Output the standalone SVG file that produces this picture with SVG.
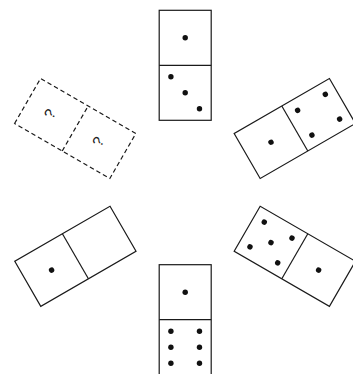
<svg xmlns="http://www.w3.org/2000/svg" width="353" height="374" viewBox="0 0 353 374">
<style>
.tile{fill:#fff;stroke:#1a1a1a;stroke-width:1.2}
.div{stroke:#1a1a1a;stroke-width:1.2}
.dash{stroke-dasharray:4.5 3}
.pip{fill:#111}
.q{font-family:"Liberation Sans",Arial,sans-serif;font-size:15px;fill:#222;text-anchor:middle}
</style>
<defs>
<g id="tile"><rect class="tile" x="-26" y="-55" width="52" height="110"/><line class="div" x1="-26" y1="0" x2="26" y2="0"/></g>
</defs>
<g id="connectors"/>
<g id="domino-top" transform="translate(185.2,65.3)">
<use href="#tile"/>
<circle class="pip" cx="0" cy="-27.5" r="2.7"/>
<circle class="pip" cx="-14.3" cy="11.5" r="2.7"/>
<circle class="pip" cx="0" cy="27.5" r="2.7"/>
<circle class="pip" cx="14.3" cy="43.5" r="2.7"/>
</g>
<g id="domino-upper-right" transform="translate(294.8,128.5) rotate(60)">
<use href="#tile"/>
<circle class="pip" cx="0" cy="27.5" r="2.7"/>
<circle class="pip" cx="-14.3" cy="-11.5" r="2.7"/>
<circle class="pip" cx="14.3" cy="-11.5" r="2.7"/>
<circle class="pip" cx="-14.3" cy="-43.5" r="2.7"/>
<circle class="pip" cx="14.3" cy="-43.5" r="2.7"/>
</g>
<g id="domino-lower-right" transform="translate(294.8,256.3) rotate(120)">
<use href="#tile"/>
<circle class="pip" cx="0" cy="-27.5" r="2.7"/>
<circle class="pip" cx="-14.3" cy="11.5" r="2.7"/>
<circle class="pip" cx="14.3" cy="11.5" r="2.7"/>
<circle class="pip" cx="0" cy="27.5" r="2.7"/>
<circle class="pip" cx="-14.3" cy="43.5" r="2.7"/>
<circle class="pip" cx="14.3" cy="43.5" r="2.7"/>
</g>
<g id="domino-bottom" transform="translate(185.2,319.7) rotate(180)">
<use href="#tile"/>
<circle class="pip" cx="0" cy="27.5" r="2.7"/>
<circle class="pip" cx="-14.3" cy="-11.5" r="2.7"/>
<circle class="pip" cx="14.3" cy="-11.5" r="2.7"/>
<circle class="pip" cx="-14.3" cy="-27.5" r="2.7"/>
<circle class="pip" cx="14.3" cy="-27.5" r="2.7"/>
<circle class="pip" cx="-14.3" cy="-43.5" r="2.7"/>
<circle class="pip" cx="14.3" cy="-43.5" r="2.7"/>
</g>
<g id="domino-lower-left" transform="translate(75.4,256.3) rotate(240)">
<use href="#tile"/>
<circle class="pip" cx="0" cy="-27.5" r="2.7"/>
</g>
<g id="domino-upper-left" transform="translate(75.2,128.5) rotate(300)">
<rect class="tile dash" x="-26" y="-55" width="52" height="110"/>
<line class="div dash" x1="-26" y1="0" x2="26" y2="0"/>
<text class="q" x="0" y="-24">?</text>
<text class="q" x="0" y="31.5">?</text>
</g>
</svg>
